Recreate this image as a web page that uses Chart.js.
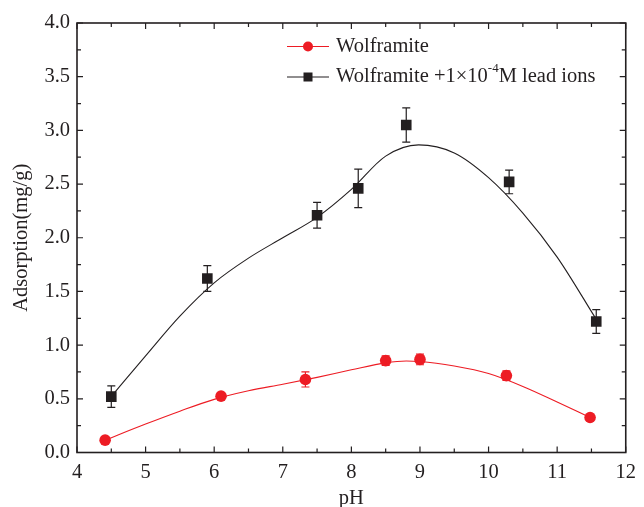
<!DOCTYPE html>
<html><head><meta charset="utf-8">
<script src="https://cdn.jsdelivr.net/npm/chart.js@4"></script>
<style>html,body{margin:0;padding:0;background:#fff}#wrap{width:644px;height:507px}</style>
</head><body><div id="wrap"><canvas id="c" width="644" height="507"></canvas></div>
<script>
// Measured points: Wolframite + 1e-4 M lead ions
const phLead = [4.5, 5.9, 7.5, 8.1, 8.8, 10.3, 11.57];
const adsLead = [0.52, 1.62, 2.21, 2.46, 3.05, 2.52, 1.22];
const errLead = [0.10, 0.12, 0.12, 0.18, 0.16, 0.11, 0.11];
// Measured points: Wolframite
const phW = [4.41, 6.1, 7.33, 8.5, 9.0, 10.26, 11.48];
const adsW = [0.115, 0.525, 0.68, 0.856, 0.867, 0.716, 0.326];
const errW = [0, 0, 0.07, 0.045, 0.05, 0.045, 0];
// Fitted curves
const fitLeadX = [4.55, 5.0, 5.5, 6.0, 6.5, 7.0, 7.5, 8.0, 8.5, 8.98, 9.5, 10.0, 10.5, 11.0, 11.57];
const fitLeadY = [0.56, 0.90, 1.27, 1.58, 1.81, 2.00, 2.19, 2.45, 2.76, 2.865, 2.79, 2.56, 2.23, 1.82, 1.24];
const fitWX = [4.41, 5.0, 5.5, 6.0, 6.5, 7.0, 7.5, 8.0, 8.5, 8.8, 9.0, 9.5, 10.0, 10.5, 11.0, 11.48];
const fitWY = [0.115, 0.265, 0.385, 0.495, 0.575, 0.636, 0.70, 0.77, 0.835, 0.852, 0.848, 0.805, 0.735, 0.615, 0.47, 0.326];
// Axis ticks
const xTicks = [4, 5, 6, 7, 8, 9, 10, 11, 12];
const yTicks = [0.0, 0.5, 1.0, 1.5, 2.0, 2.5, 3.0, 3.5, 4.0];
const legendLabels = ['Wolframite', 'Wolframite +1\u00d710', '-4', 'M lead ions'];

const RED = '#ED1C24';
const BLK = '#231F20';
const FONT = 'Liberation Serif';
const FS = 20.5;

const pts = (xs, ys) => xs.map((x, i) => ({x: x, y: ys[i]}));

const errorPlugin = {
  id: 'errbars',
  afterDatasetsDraw(chart) {
    const ctx = chart.ctx, xs = chart.scales.x, ys = chart.scales.y;
    const draw = (px, py, pe, color) => {
      ctx.save();
      ctx.strokeStyle = color; ctx.lineWidth = 1.2;
      px.forEach((x, i) => {
        if (!pe[i]) return;
        const X = xs.getPixelForValue(x);
        const Y1 = ys.getPixelForValue(py[i] + pe[i]);
        const Y2 = ys.getPixelForValue(py[i] - pe[i]);
        ctx.beginPath();
        ctx.moveTo(X, Y1); ctx.lineTo(X, Y2);
        ctx.moveTo(X - 4, Y1); ctx.lineTo(X + 4, Y1);
        ctx.moveTo(X - 4, Y2); ctx.lineTo(X + 4, Y2);
        ctx.stroke();
      });
      ctx.restore();
    };
    draw(phLead, adsLead, errLead, BLK);
    draw(phW, adsW, errW, RED);
  }
};

const framePlugin = {
  id: 'frame',
  afterDraw(chart) {
    const ctx = chart.ctx, a = chart.chartArea, xs = chart.scales.x, ys = chart.scales.y;
    ctx.save();
    ctx.strokeStyle = BLK; ctx.lineWidth = 1.6;
    ctx.strokeRect(a.left, a.top, a.right - a.left, a.bottom - a.top);
    ctx.lineWidth = 1.2;
    ctx.beginPath();
    for (let v = 4; v <= 12.001; v += 0.5) {
      const X = xs.getPixelForValue(v);
      const L = Math.abs(v - Math.round(v)) < 1e-6 ? 6 : 4;
      ctx.moveTo(X, a.bottom); ctx.lineTo(X, a.bottom - L);
      ctx.moveTo(X, a.top); ctx.lineTo(X, a.top + L);
    }
    for (let v = 0; v <= 4.001; v += 0.25) {
      const Y = ys.getPixelForValue(v);
      const L = Math.abs(v * 2 - Math.round(v * 2)) < 1e-6 ? 6 : 4;
      ctx.moveTo(a.left, Y); ctx.lineTo(a.left + L, Y);
      ctx.moveTo(a.right, Y); ctx.lineTo(a.right - L, Y);
    }
    ctx.stroke();
    ctx.restore();
  }
};

const legendPlugin = {
  id: 'customLegend',
  afterDraw(chart) {
    const ctx = chart.ctx;
    ctx.save();
    const x0 = 287, x1 = 329, xm = 308, tx = 336;
    const rows = [{y: 46.5, c: RED, shape: 'circle'}, {y: 77, c: BLK, shape: 'square'}];
    rows.forEach(r => {
      ctx.strokeStyle = r.c; ctx.lineWidth = 1.2;
      ctx.beginPath(); ctx.moveTo(x0, r.y); ctx.lineTo(x1, r.y); ctx.stroke();
      ctx.fillStyle = r.c;
      if (r.shape === 'circle') { ctx.beginPath(); ctx.arc(xm, r.y, 5, 0, Math.PI * 2); ctx.fill(); }
      else { ctx.fillRect(xm - 4.5, r.y - 4.5, 9, 9); }
    });
    ctx.fillStyle = BLK;
    ctx.textBaseline = 'middle';
    ctx.font = FS + 'px "' + FONT + '"';
    ctx.fillText(legendLabels[0], tx, 46.5);
    ctx.fillText(legendLabels[1], tx, 77);
    let w = ctx.measureText(legendLabels[1]).width;
    ctx.font = '13px "' + FONT + '"';
    ctx.fillText(legendLabels[2], tx + w, 69);
    w += ctx.measureText(legendLabels[2]).width;
    ctx.font = FS + 'px "' + FONT + '"';
    ctx.fillText(legendLabels[3], tx + w, 77);
    ctx.restore();
  }
};

new Chart(document.getElementById('c').getContext('2d'), {
  type: 'scatter',
  data: {
    datasets: [
      {type: 'line', label: 'fitLead', data: pts(fitLeadX, fitLeadY), borderColor: BLK, borderWidth: 1.1, pointRadius: 0, cubicInterpolationMode: 'monotone', fill: false},
      {type: 'line', label: 'fitW', data: pts(fitWX, fitWY), borderColor: RED, borderWidth: 1.1, pointRadius: 0, cubicInterpolationMode: 'monotone', fill: false},
      {label: 'Wolframite +1×10-4M lead ions', data: pts(phLead, adsLead), pointStyle: 'rect', pointRadius: 7.5, backgroundColor: BLK, borderColor: BLK, borderWidth: 0},
      {label: 'Wolframite', data: pts(phW, adsW), pointStyle: 'circle', pointRadius: 5.8, backgroundColor: RED, borderColor: RED, borderWidth: 0}
    ]
  },
  options: {
    responsive: false, animation: false,
    layout: {padding: {top: 23, right: 11, left: 0, bottom: 0}},
    plugins: {legend: {display: false}, tooltip: {enabled: false}},
    scales: {
      x: {
        type: 'linear', min: 4, max: 12,
        afterBuildTicks: s => { s.ticks = xTicks.map(v => ({value: v})); },
        ticks: {font: {family: FONT, size: FS}, color: BLK, padding: 8, maxRotation: 0, callback: v => String(v)},
        grid: {display: false, drawTicks: false}, border: {display: false},
        title: {display: true, text: 'pH', font: {family: FONT, size: FS}, color: BLK, padding: {top: 0, bottom: -4}},
        afterFit: s => { s.height = 54.5; }
      },
      y: {
        type: 'linear', min: 0, max: 4,
        afterBuildTicks: s => { s.ticks = yTicks.map(v => ({value: v})); },
        ticks: {font: {family: FONT, size: FS}, color: BLK, padding: 7, callback: v => Number(v).toFixed(1)},
        grid: {display: false, drawTicks: false}, border: {display: false},
        title: {display: true, text: 'Adsorption(mg/g)', font: {family: FONT, size: FS}, color: BLK, padding: {top: 9, bottom: 0}},
        afterFit: s => { s.width = 77; }
      }
    }
  },
  plugins: [errorPlugin, framePlugin, legendPlugin]
});
</script>
</body></html>
